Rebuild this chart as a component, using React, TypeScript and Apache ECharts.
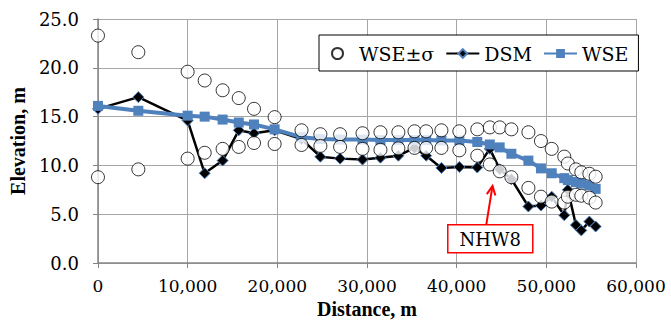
import React, { useEffect, useRef } from "react";
import * as echarts from "echarts";

const distance = [0, 4500, 10000, 11900, 13900, 15700, 17400, 19700, 22700, 24800, 27000, 29500, 31500, 33500, 35300, 36600, 38300, 40300, 42300, 43700, 44800, 46100, 48000, 49400, 50600, 52000, 52400, 53300, 53900, 54800, 55500];
const wse = [16.1, 15.6, 15.1, 15.0, 14.7, 14.4, 14.2, 13.7, 12.9, 12.7, 12.65, 12.65, 12.6, 12.6, 12.6, 12.6, 12.55, 12.55, 12.4, 12.15, 11.85, 11.2, 10.5, 9.7, 9.2, 8.7, 8.5, 8.3, 8.15, 7.95, 7.6];
const dsm = [15.8, 17.0, 14.6, 9.2, 10.5, 13.6, 13.3, 13.6, 12.7, 10.9, 10.7, 10.6, 10.8, 11.0, 11.8, 11.0, 9.75, 9.85, 9.8, 11.7, 9.6, 8.6, 5.8, 5.9, 6.8, 4.9, 7.5, 3.9, 3.35, 4.25, 3.75];
const wsePlusSigma = [23.3, 21.6, 19.6, 18.7, 17.7, 16.9, 15.8, 14.95, 13.6, 13.2, 13.2, 13.3, 13.4, 13.4, 13.5, 13.5, 13.6, 13.5, 13.7, 13.9, 13.9, 13.7, 13.4, 12.5, 11.7, 10.9, 10.2, 9.6, 9.3, 9.15, 8.85];
const wseMinusSigma = [8.8, 9.6, 10.7, 11.3, 11.7, 11.9, 12.3, 12.2, 12.1, 12.0, 11.9, 11.7, 11.6, 11.75, 11.8, 11.8, 11.8, 11.55, 11.0, 10.1, 9.4, 8.8, 7.7, 6.8, 6.3, 6.2, 6.8, 7.0, 6.9, 6.7, 6.2];

const seriesNames = ["WSE\u00b1\u03c3", "DSM", "WSE"];
const xAxisTitle = "Distance, m";
const yAxisTitle = "Elevation, m";
const annotationLabel = "NHW8";
const annotationTip = [44000, 7.9];
const annotationBoxCenter = [43750, 2.5];

const BOLD_FONT = "Liberation Serif";
const FONT = "DejaVu Serif";
const BLUE = "#4F81BD";

export default function App() {
  const ref = useRef<HTMLDivElement>(null);
  useEffect(() => {
    if (!ref.current) return;
    const chart = echarts.init(ref.current, undefined, { renderer: "svg" });
    const zip = (ys: number[]) => distance.map((x, i) => [x, ys[i]]);
    const sigmaData = [...zip(wsePlusSigma), ...zip(wseMinusSigma)];
    chart.setOption({
      animation: false,
      backgroundColor: "#fff",
      textStyle: { fontFamily: FONT },
      grid: { left: 96, right: 35, top: 19, bottom: 57 },
      legend: {
        left: 319,
        top: 35,
        backgroundColor: "#fff",
        borderColor: "#000",
        borderWidth: 1,
        borderRadius: 0,
        padding: [9, 10, 8, 12],
        itemGap: 11,
        itemWidth: 33,
        itemHeight: 11,
        textStyle: { fontSize: 19, fontFamily: FONT, fontWeight: "normal", color: "#000" },
        data: seriesNames,
      },
      xAxis: {
        type: "value",
        min: 0,
        max: 60000,
        interval: 10000,
        name: xAxisTitle,
        nameLocation: "middle",
        nameGap: 33,
        nameTextStyle: { fontSize: 20, fontWeight: "bold", fontFamily: BOLD_FONT, color: "#000" },
        axisLine: { show: true, lineStyle: { color: "#868686", width: 1.5 } },
        axisTick: { show: true, inside: false, length: 5, lineStyle: { color: "#868686" } },
        axisLabel: {
          fontSize: 17,
          fontFamily: FONT,
          fontWeight: "normal",
          color: "#000",
          margin: 14,
          formatter: (v: number) => v.toLocaleString("en-US"),
        },
        splitLine: { show: true, lineStyle: { color: "#a6a6a6", width: 1 } },
      },
      yAxis: {
        type: "value",
        min: 0,
        max: 25,
        interval: 5,
        name: yAxisTitle,
        nameLocation: "middle",
        nameGap: 62,
        nameTextStyle: { fontSize: 20, fontWeight: "bold", fontFamily: BOLD_FONT, color: "#000" },
        axisLine: { show: true, lineStyle: { color: "#868686", width: 1.5 } },
        axisTick: { show: true, inside: false, length: 5, lineStyle: { color: "#868686" } },
        axisLabel: {
          fontSize: 18,
          fontFamily: FONT,
          fontWeight: "normal",
          color: "#000",
          margin: 19,
          formatter: (v: number) => v.toFixed(1),
        },
        splitLine: { show: true, lineStyle: { color: "#a6a6a6", width: 1 } },
      },
      series: [
        {
          name: seriesNames[0],
          type: "scatter",
          data: sigmaData,
          symbol: "circle",
          symbolSize: 13,
          itemStyle: { color: "#fff", borderColor: "#000", borderWidth: 1 },
          z: 5,
        },
        {
          name: seriesNames[1],
          type: "line",
          data: zip(dsm),
          symbol: "diamond",
          symbolSize: 11,
          showAllSymbol: true,
          lineStyle: { color: "#000", width: 2.5 },
          itemStyle: { color: "#000", borderColor: BLUE, borderWidth: 1 },
          z: 3,
        },
        {
          name: seriesNames[2],
          type: "line",
          data: zip(wse),
          symbol: "rect",
          symbolSize: 10,
          showAllSymbol: true,
          lineStyle: { color: BLUE, width: 4 },
          itemStyle: { color: BLUE },
          z: 4,
        },
      ],
    });

    const tip = chart.convertToPixel({ gridIndex: 0 }, annotationTip) as number[];
    const box = chart.convertToPixel({ gridIndex: 0 }, annotationBoxCenter) as number[];
    const bw = 85;
    const bh = 28;
    const base = [box[0] - 4, box[1] - bh / 2];
    const ang = Math.atan2(tip[1] - base[1], tip[0] - base[0]);
    const hl = 10;
    const spread = 0.45;
    const p1 = [tip[0] - hl * Math.cos(ang - spread), tip[1] - hl * Math.sin(ang - spread)];
    const p2 = [tip[0] - hl * Math.cos(ang + spread), tip[1] - hl * Math.sin(ang + spread)];
    chart.setOption({
      graphic: [
        {
          type: "line",
          z: 100,
          shape: { x1: base[0], y1: base[1], x2: tip[0], y2: tip[1] },
          style: { stroke: "#ff0000", lineWidth: 2 },
        },
        {
          type: "polyline",
          z: 100,
          shape: { points: [p1, tip, p2] },
          style: { stroke: "#ff0000", lineWidth: 2, fill: "none" },
        },
        {
          type: "rect",
          z: 100,
          shape: { x: box[0] - bw / 2, y: box[1] - bh / 2, width: bw, height: bh },
          style: { stroke: "#ff0000", lineWidth: 1.5, fill: "#fff" },
        },
        {
          type: "text",
          z: 101,
          x: box[0],
          y: box[1] + 1,
          style: {
            text: annotationLabel,
            fontSize: 18,
            fontFamily: FONT,
            fill: "#000",
            align: "center",
            verticalAlign: "middle",
          },
        },
      ],
    });
    return () => chart.dispose();
  }, []);
  return (
    <div
      ref={ref}
      style={{ position: "fixed", left: 0, top: 0, width: 671, height: 324 }}
    />
  );
}
